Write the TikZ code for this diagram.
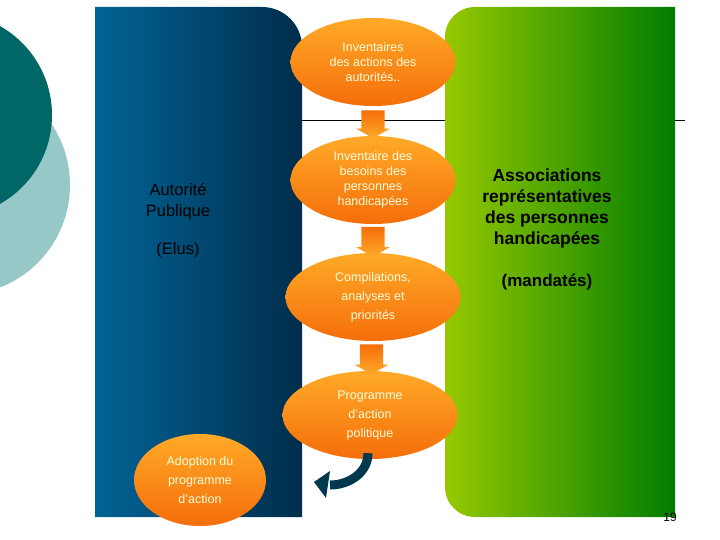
\documentclass[tikz,border=0pt]{standalone}
\usepackage{fontspec}
\setmainfont{Liberation Sans}
\usetikzlibrary{positioning,calc,shapes.arrows,shapes.geometric}
\definecolor{teal}{RGB}{0,102,102}
\definecolor{lteal}{RGB}{150,200,200}
\definecolor{bluetop}{RGB}{0,100,150}
\definecolor{bluedark}{RGB}{0,45,75}
\definecolor{grnlight}{RGB}{150,200,0}
\definecolor{grndark}{RGB}{0,125,0}
\definecolor{orglight}{RGB}{255,170,40}
\definecolor{orgdark}{RGB}{245,110,10}
\tikzset{stage/.style={ellipse, minimum width=165pt, minimum height=88pt, inner sep=0pt,
    top color=orglight, bottom color=orgdark, text=yellow!15, align=center,
    font=\fontsize{12.5}{15}\selectfont},
  down/.style={single arrow, shape border rotate=270, minimum width=34pt,
    single arrow head extend=2pt, single arrow tip angle=120, inner sep=4pt,
    top color=orgdark, bottom color=orglight},
  side/.style={align=center, font=\fontsize{16.5}{21}\selectfont}}
\begin{document}
\begin{tikzpicture}[x=1pt,y=-1pt]
  \useasboundingbox (0,0) rectangle (720,540);
  % decorative circles
  \fill[lteal] (-40,185) circle (110);
  \fill[teal] (-50,115) circle (102);
  % columns
  \shade[left color=bluetop, right color=bluedark]
    (95,517) -- (95,7) -- (262,7) to[out=0,in=90] (302,47) -- (302,517) -- cycle;
  \draw[thick] (302,120) -- (685,120);
  \shade[left color=grnlight, right color=grndark]
    (475,517) to[out=180,in=270] (445,487) -- (445,37) to[out=90,in=180] (475,7)
    -- (675,7) -- (675,517) -- cycle;
  % stages
  \node[stage] (inv) at (373,62) {Inventaires\\des actions des\\autorités..};
  \node[stage] (bes) at (373,180) {Inventaire des\\besoins des\\personnes\\handicapées};
  \node[stage, minimum width=175pt, font=\fontsize{12.5}{19}\selectfont] (com) at (373,297) {Compilations,\\analyses et\\priorités};
  \node[stage, minimum width=175pt, font=\fontsize{12.5}{19}\selectfont] (pro) at (370,415) {Programme\\d’action\\politique};
  \node[stage, minimum width=132pt, minimum height=92pt, font=\fontsize{12.5}{19}\selectfont] (ado) at (200,480) {Adoption du\\programme\\d’action};
  \node[down, minimum height=28pt] at ($(inv.south)!0.5!(bes.north)$) {};
  \node[down, minimum height=30pt] at ($(bes.south)!0.5!(com.north)$) {};
  \node[down, minimum height=30pt] at ($(com.south)!0.5!(pro.north)$) {};
  \coordinate (bend) at (330,485);
  \draw[line width=9pt, draw=bluedark!80!teal] (pro.south) ++(-2,-6) to[out=270,in=0] (bend);
  \fill[bluedark!80!teal] (bend) ++(0,-14) -- ++(-16,11) -- ++(12,16) -- cycle;
  % side texts
  \node[side] (pub) at (178,202) {Autorité\\Publique};
  \node[side] (elu) at (178,250) {(Elus)};
  \node[side, font=\fontsize{17.5}{21}\selectfont\bfseries, text=black] (asso) at (547,208)
    {Associations\\représentatives\\des personnes\\handicapées};
  \node[side, font=\fontsize{17}{20}\selectfont\bfseries] (mand) at (547,282) {(mandatés)};
  \node[font=\fontsize{12}{14}\selectfont] (num) at (670,517) {19};
\end{tikzpicture}
\end{document}
